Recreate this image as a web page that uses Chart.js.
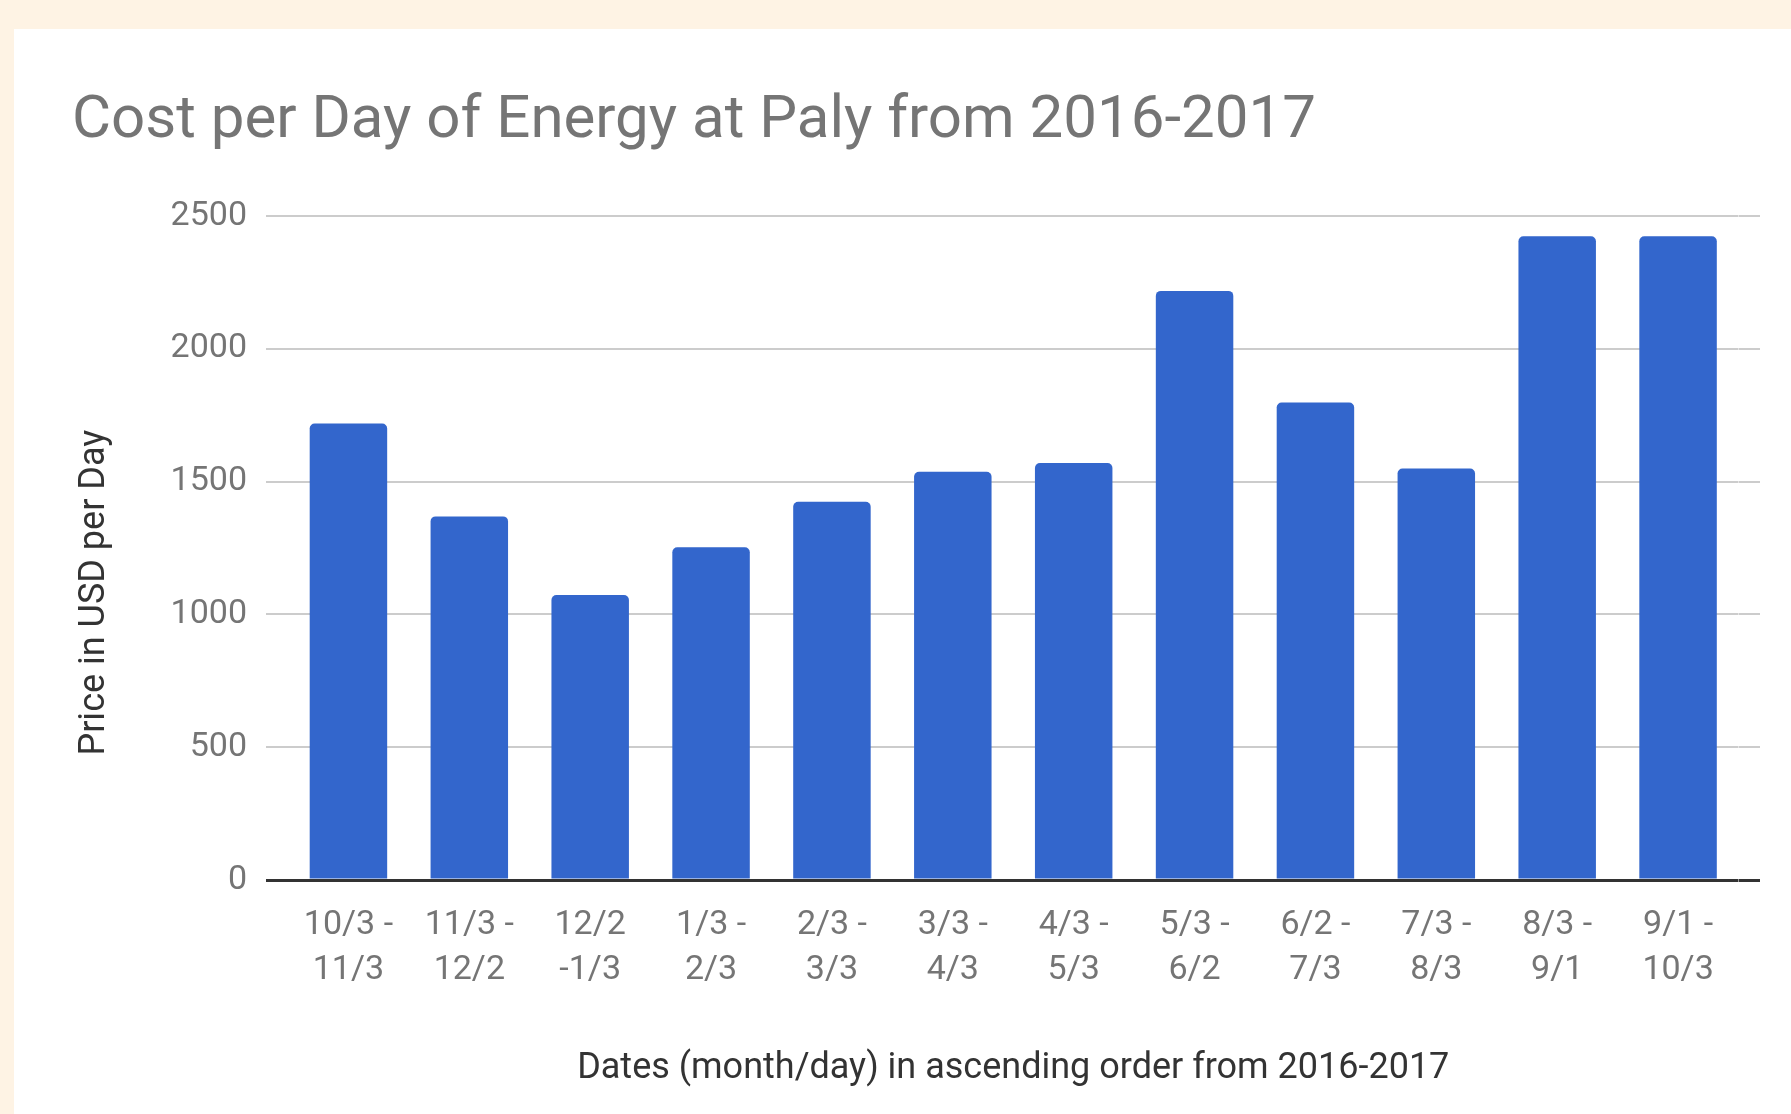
<!DOCTYPE html>
<html>
<head>
<meta charset="utf-8">
<title>Cost per Day of Energy at Paly</title>
<script src="https://cdn.jsdelivr.net/npm/chart.js@4"></script>
<style>
  html, body { margin: 0; padding: 0; background: #fef3e4; overflow: hidden; }
  .card { position: absolute; left: 14px; top: 29px; width: 1777px; height: 1085px; background: #fff; }
  canvas { display: block; }
</style>
</head>
<body>
<div class="card"><canvas id="grafico" width="1777" height="1085"></canvas></div>
<script>
// ===== DADOS =====
const chartTitle = "Cost per Day of Energy at Paly from 2016-2017";
const yTitle = "Price in USD per Day";
const xTitle = "Dates (month/day) in ascending order from 2016-2017";

const periodLabels = [
  ["10/3 -", "11/3"], ["11/3 -", "12/2"], ["12/2", "-1/3"], ["1/3 -", "2/3"],
  ["2/3 -", "3/3"], ["3/3 -", "4/3"], ["4/3 -", "5/3"], ["5/3 -", "6/2"],
  ["6/2 -", "7/3"], ["7/3 -", "8/3"], ["8/3 -", "9/1"], ["9/1 -", "10/3"]
];
const costPerDay = [1719, 1369, 1073, 1253, 1424, 1537, 1570, 2218, 1798, 1549, 2424, 2424];
const yTicks = [0, 500, 1000, 1500, 2000, 2500];

const FONT = "Roboto";
const gridColor = c => (c.tick && c.tick.value === 0 ? "#333" : "#ccc");
const gridWidth = c => (c.tick && c.tick.value === 0 ? 3 : 2);
const setTicks = s => { s.ticks = yTicks.map(v => ({ value: v })); };

new Chart(document.getElementById("grafico"), {
  type: "bar",
  data: {
    labels: periodLabels,
    datasets: [{
      label: yTitle,
      data: costPerDay,
      backgroundColor: "#3366cc",
      borderRadius: 5,
      barPercentage: 0.641,
      categoryPercentage: 1
    }]
  },
  options: {
    responsive: false,
    animation: false,
    layout: { padding: { left: 58, right: 31, top: 0, bottom: 0 } },
    plugins: {
      legend: { display: false },
      tooltip: { enabled: false },
      title: {
        display: true,
        text: chartTitle,
        align: "start",
        color: "#757575",
        font: { family: FONT, size: 60, weight: "normal", lineHeight: 1.2 },
        padding: { top: 57, bottom: 58 }
      }
    },
    scales: {
      x: {
        grid: { display: false, drawTicks: false },
        border: { display: false },
        ticks: {
          color: "#757575",
          padding: 23,
          maxRotation: 0,
          autoSkip: false,
          font: { family: FONT, size: 34, lineHeight: 1.32 }
        },
        title: {
          display: true,
          text: xTitle,
          color: "#333",
          font: { family: FONT, size: 36, lineHeight: 1.2 },
          padding: { top: 0, bottom: 23 }
        },
        afterFit: s => { s.height = 234; }
      },
      y: {
        min: 0,
        max: 2500,
        afterBuildTicks: setTicks,
        grid: { color: gridColor, lineWidth: gridWidth, drawTicks: true, tickLength: 22 },
        border: { display: false },
        ticks: {
          color: "#757575",
          padding: 19,
          font: { family: FONT, size: 34 },
          callback: v => String(v)
        },
        title: {
          display: true,
          text: yTitle + "          ",
          color: "#333",
          font: { family: FONT, size: 36, lineHeight: 1.2 },
          padding: { top: 1, bottom: 0 }
        },
        afterFit: s => { s.width = 216; }
      },
      y2: {
        position: "right",
        min: 0,
        max: 2500,
        afterBuildTicks: setTicks,
        grid: { drawOnChartArea: false, color: gridColor, lineWidth: gridWidth, drawTicks: true, tickLength: 21.5 },
        border: { display: false },
        ticks: { display: false },
        afterFit: s => { s.width = 21.5; }
      }
    }
  }
});
</script>
</body>
</html>
